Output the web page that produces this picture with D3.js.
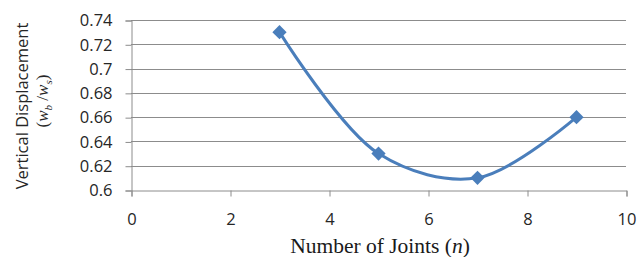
<!DOCTYPE html>
<html>
<head>
<meta charset="utf-8">
<script src="https://cdn.jsdelivr.net/npm/d3@7"></script>
<style>
  body { margin: 0; background: #fff; }
</style>
</head>
<body>
<div id="root"></div>
<script>
const joints = [3, 5, 7, 9];
const displacement = [0.73, 0.63, 0.61, 0.66];
const xTicks = [0, 2, 4, 6, 8, 10];
const yTicks = [0.6, 0.62, 0.64, 0.66, 0.68, 0.7, 0.72, 0.74];

const w = 637;
const h = 257;
const plotLeft = 131, plotRight = 626, plotTop = 20, plotBottom = 190;

const svg = d3.select("#root")
  .append("svg")
  .attr("width", w)
  .attr("height", h);

const x = d3.scaleLinear().domain([0, 10]).range([plotLeft, plotRight]);
const y = d3.scaleLinear().domain([0.6, 0.74]).range([plotBottom, plotTop]);

// horizontal gridlines
svg.append("g")
  .selectAll("line")
  .data(yTicks.slice(1))
  .join("line")
  .attr("x1", plotLeft)
  .attr("x2", plotRight)
  .attr("y1", d => Math.round(y(d)) + 0.5)
  .attr("y2", d => Math.round(y(d)) + 0.5)
  .attr("stroke", "#8c8c8c")
  .attr("stroke-width", 1);

const yAxis = svg.append("g")
  .attr("transform", `translate(${plotLeft + 0.5}, 0.5)`)
  .call(d3.axisLeft(y).tickValues(yTicks).tickFormat(d3.format("")).tickSizeOuter(0).tickSize(6).tickPadding(13));

const xAxis = svg.append("g")
  .attr("transform", `translate(0.5, ${plotBottom + 0.5})`)
  .call(d3.axisBottom(x).tickValues(xTicks).tickSizeOuter(0).tickSize(6).tickPadding(17));

[yAxis, xAxis].forEach(g => {
  g.select(".domain").attr("stroke", "#8c8c8c");
  g.selectAll(".tick line").attr("stroke", "#8c8c8c");
  g.selectAll(".tick text")
    .attr("fill", "#262626")
    .style("font-family", "'Open Sans', sans-serif")
    .style("font-size", "16.5px");
});

const pts = joints.map((j, i) => [j, displacement[i]]);

svg.append("path")
  .datum(pts)
  .attr("fill", "none")
  .attr("stroke", "#4a7ebb")
  .attr("stroke-width", 3)
  .attr("d", d3.line()
    .x(d => x(d[0]))
    .y(d => y(d[1]))
    .curve(d3.curveCatmullRom.alpha(0.5)));

svg.append("g")
  .selectAll("path")
  .data(pts)
  .join("path")
  .attr("transform", d => `translate(${x(d[0])}, ${y(d[1])})`)
  .attr("d", d3.symbol(d3.symbolDiamond2, 130))
  .attr("fill", "#4a7ebb");

// axis titles
svg.append("text")
  .attr("transform", "translate(28, 106) rotate(-90)")
  .attr("text-anchor", "middle")
  .attr("fill", "#262626")
  .style("font-family", "'Open Sans', sans-serif")
  .style("font-size", "16.5px")
  .text("Vertical Displacement");

const sub = svg.append("text")
  .attr("transform", "translate(48, 101) rotate(-90)")
  .attr("text-anchor", "middle")
  .attr("fill", "#262626")
  .style("font-family", "'Liberation Serif', serif")
  .style("font-size", "17px");
sub.append("tspan").text("(");
sub.append("tspan").style("font-style", "italic").text("w");
sub.append("tspan").attr("dy", 4).style("font-size", "11px").style("font-style", "italic").text("b");
sub.append("tspan").attr("dy", -4).text(" /");
sub.append("tspan").style("font-style", "italic").text("w");
sub.append("tspan").attr("dy", 4).style("font-size", "11px").style("font-style", "italic").text("s");
sub.append("tspan").attr("dy", -4).text(")");

const xt = svg.append("text")
  .attr("x", 380)
  .attr("y", 253)
  .attr("text-anchor", "middle")
  .attr("fill", "#1a1a1a")
  .style("font-family", "'Liberation Serif', serif")
  .style("font-size", "21.5px");
xt.append("tspan").text("Number of  Joints (");
xt.append("tspan").style("font-style", "italic").text("n");
xt.append("tspan").text(")");
</script>
</body>
</html>
